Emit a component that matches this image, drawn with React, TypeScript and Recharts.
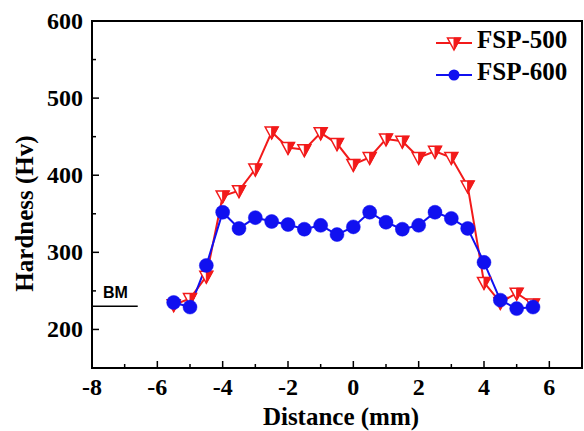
import React from 'react';
import { LineChart, Line, XAxis, YAxis, ReferenceArea, ReferenceLine } from 'recharts';

const DISTANCE = [-5.5, -5, -4.5, -4, -3.5, -3, -2.5, -2, -1.5, -1, -0.5, 0, 0.5, 1, 1.5, 2, 2.5, 3, 3.5, 4, 4.5, 5, 5.5];
const FSP500 = [232, 240, 269, 373, 380, 408, 456, 436, 433, 455, 441, 414, 423, 447, 444, 423, 431, 423, 386, 261, 235, 247, 233];
const FSP600 = [235, 229, 283, 352, 331, 345, 340, 336, 330, 335, 323, 333, 352, 339, 330, 335, 352, 344, 331, 287, 238, 227, 229];
const SERIES_NAMES = ['FSP-500', 'FSP-600'];
const X_TICKS = [-8, -7, -6, -5, -4, -3, -2, -1, 0, 1, 2, 3, 4, 5, 6, 7];
const Y_TICKS = [150, 200, 250, 300, 350, 400, 450, 500, 550, 600];
const X_DOMAIN = [-8, 7];
const Y_DOMAIN = [150, 600];
const BM_VALUE = 230;
const BM_END = -6.6;

const data = DISTANCE.map((d, i) => ({ d, a: FSP500[i], b: FSP600[i] }));

const RED = '#f21a1a';
const BLUE = '#1010f0';
const SERIF = '"Liberation Serif", "Times New Roman", serif';

const Tri = ({ cx, cy }: any) => {
  if (cx == null || cy == null) return null;
  const w = 6.5;
  const top = cy - 5;
  const bot = cy + 7;
  return (
    <g>
      <path d={`M${cx - w},${top} L${cx + w},${top} L${cx},${bot} Z`} fill="#fff" stroke={RED} strokeWidth={1.5} />
      <path d={`M${cx},${top} L${cx + w},${top} L${cx},${bot} Z`} fill={RED} stroke={RED} strokeWidth={1} />
    </g>
  );
};

const Dot = ({ cx, cy }: any) => {
  if (cx == null || cy == null) return null;
  return <circle cx={cx} cy={cy} r={7} fill={BLUE} stroke={BLUE} strokeWidth={0.5} />;
};

const XTick = (props: any) => {
  const { x, y, payload } = props;
  const v = payload.value;
  const major = v % 2 === 0;
  return (
    <g>
      <line x1={x} y1={y} x2={x} y2={y - (major ? 7 : 4)} stroke="#000" strokeWidth={1.5} />
      {major && v <= 6 ? (
        <text x={x} y={y + 27} textAnchor="middle" fontFamily={SERIF} fontWeight="bold" fontSize={24} fill="#000">
          {v}
        </text>
      ) : null}
    </g>
  );
};

const YTick = (props: any) => {
  const { x, y, payload } = props;
  const v = payload.value;
  const major = v % 100 === 0;
  return (
    <g>
      <line x1={x} y1={y} x2={x + (major ? 7 : 4)} y2={y} stroke="#000" strokeWidth={1.5} />
      {major ? (
        <text x={x - 9} y={y + 8} textAnchor="end" fontFamily={SERIF} fontWeight="bold" fontSize={24} fill="#000">
          {v}
        </text>
      ) : null}
    </g>
  );
};

const XTitle = ({ viewBox }: any) => (
  <text x={viewBox.x + viewBox.width / 2 + 4} y={viewBox.y + 57} textAnchor="middle" fontFamily={SERIF} fontWeight="bold" fontSize={25} fill="#000">
    Distance (mm)
  </text>
);

const YTitle = ({ viewBox }: any) => {
  const cx = 33;
  const cy = viewBox.y + viewBox.height / 2 + 19;
  return (
    <text x={cx} y={cy} transform={`rotate(-90, ${cx}, ${cy})`} textAnchor="middle" fontFamily={SERIF} fontWeight="bold" fontSize={25} fill="#000">
      Hardness (Hv)
    </text>
  );
};

const BMLabel = ({ viewBox }: any) => (
  <text x={viewBox.x + 11} y={viewBox.y - 8} fontFamily='"Liberation Sans", Arial, sans-serif' fontWeight="bold" fontSize={16} fill="#000">
    BM
  </text>
);

const LegendBox = () => (
  <svg width={150} height={75} style={{ position: 'absolute', left: 430, top: 20 }}>
    <line x1={6} y1={23} x2={42} y2={23} stroke={RED} strokeWidth={2} />
    <Tri cx={24} cy={23} />
    <text x={47} y={28} fontFamily={SERIF} fontWeight="bold" fontSize={25} fill="#000">{SERIES_NAMES[0]}</text>
    <line x1={6} y1={55} x2={42} y2={55} stroke={BLUE} strokeWidth={2} />
    <circle cx={24} cy={55} r={5.5} fill={BLUE} />
    <text x={47} y={60} fontFamily={SERIF} fontWeight="bold" fontSize={25} fill="#000">{SERIES_NAMES[1]}</text>
  </svg>
);

export default function App() {
  return (
    <div style={{ position: 'absolute', left: 0, top: 0, width: 584, height: 431, background: '#fff' }}>
      <LineChart width={584} height={431} data={data} margin={{ top: 21, right: 2, bottom: 0, left: 0 }}>
        <XAxis
          dataKey="d"
          type="number"
          domain={X_DOMAIN}
          ticks={X_TICKS}
          interval={0}
          tickSize={0}
          tickMargin={0}
          tickLine={false}
          tick={(p: any) => <XTick {...p} />}
          axisLine={{ stroke: '#000', strokeWidth: 2 }}
          height={63}
          allowDataOverflow
          label={<XTitle />}
        />
        <YAxis
          type="number"
          domain={Y_DOMAIN}
          ticks={Y_TICKS}
          interval={0}
          tickSize={0}
          tickMargin={0}
          tickLine={false}
          tick={(p: any) => <YTick {...p} />}
          axisLine={{ stroke: '#000', strokeWidth: 2 }}
          width={92}
          allowDataOverflow
          label={<YTitle />}
        />
        <ReferenceArea x1={X_DOMAIN[0]} x2={X_DOMAIN[1]} y1={Y_DOMAIN[0]} y2={Y_DOMAIN[1]} fill="none" fillOpacity={0} stroke="#000" strokeWidth={2} />
        <ReferenceLine
          segment={[{ x: X_DOMAIN[0], y: BM_VALUE }, { x: BM_END, y: BM_VALUE }]}
          stroke="#000"
          strokeWidth={1.5}
          label={<BMLabel />}
        />
        <Line dataKey="a" name={SERIES_NAMES[0]} stroke={RED} strokeWidth={2} dot={<Tri />} activeDot={false} isAnimationActive={false} />
        <Line dataKey="b" name={SERIES_NAMES[1]} stroke={BLUE} strokeWidth={2} dot={<Dot />} activeDot={false} isAnimationActive={false} />
      </LineChart>
      <LegendBox />
    </div>
  );
}
